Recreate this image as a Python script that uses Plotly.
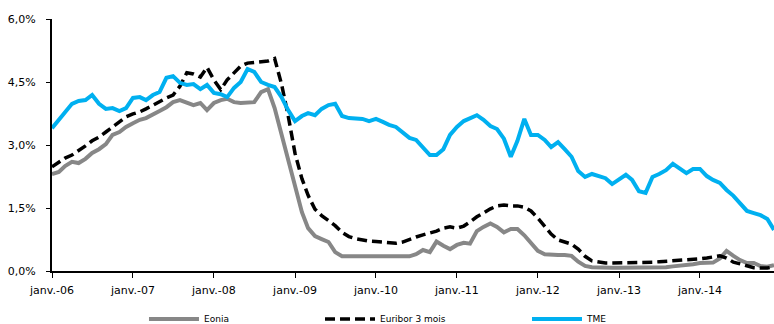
import pandas as pd
import plotly.graph_objects as go

# Monthly rates (%), January 2006 to December 2014
months = pd.date_range("2006-01-01", periods=108, freq="MS")

eonia = [
    2.31, 2.36, 2.50, 2.60, 2.57, 2.67, 2.81, 2.90, 3.02, 3.24, 3.31, 3.43,
    3.52, 3.60, 3.64, 3.74, 3.81, 3.90, 4.02, 4.07, 4.02, 3.95, 4.00, 3.83,
    4.00, 4.07, 4.10, 4.02, 4.00, 4.00, 4.02, 4.26, 4.33, 3.88, 3.24, 2.64,
    2.00, 1.40, 1.02, 0.83, 0.76, 0.69, 0.45, 0.35, 0.35, 0.35, 0.35, 0.35,
    0.35, 0.35, 0.35, 0.35, 0.35, 0.35, 0.40, 0.50, 0.45, 0.70, 0.60, 0.52,
    0.62, 0.67, 0.65, 0.95, 1.05, 1.13, 1.05, 0.92, 1.00, 1.00, 0.85, 0.68,
    0.48, 0.40, 0.38, 0.38, 0.38, 0.36, 0.22, 0.12, 0.09, 0.08, 0.08, 0.08,
    0.08, 0.08, 0.08, 0.08, 0.08, 0.08, 0.09, 0.09, 0.11, 0.12, 0.13, 0.16,
    0.19, 0.19, 0.20, 0.30, 0.48, 0.36, 0.26, 0.19, 0.19, 0.12, 0.10, 0.14,
]

euribor_3m = [
    2.48, 2.60, 2.69, 2.76, 2.86, 2.98, 3.10, 3.19, 3.31, 3.43, 3.57, 3.67,
    3.74, 3.79, 3.86, 3.95, 4.02, 4.12, 4.19, 4.40, 4.72, 4.69, 4.62, 4.85,
    4.55, 4.32, 4.55, 4.72, 4.88, 4.95, 4.96, 4.97, 5.00, 5.06, 4.45, 3.70,
    2.80, 2.20, 1.80, 1.47, 1.32, 1.20, 1.08, 0.92, 0.82, 0.77, 0.73, 0.71,
    0.70, 0.68, 0.67, 0.66, 0.69, 0.76, 0.81, 0.86, 0.90, 0.95, 1.02, 1.05,
    1.02, 1.07, 1.17, 1.29, 1.38, 1.48, 1.55, 1.57, 1.55, 1.55, 1.52, 1.43,
    1.26, 1.07, 0.88, 0.74, 0.69, 0.64, 0.52, 0.35, 0.24, 0.21, 0.19, 0.19,
    0.19, 0.20, 0.21, 0.21, 0.21, 0.21, 0.22, 0.23, 0.24, 0.24, 0.26, 0.27,
    0.29, 0.31, 0.34, 0.36, 0.31, 0.21, 0.17, 0.12, 0.08, 0.07, 0.07, 0.10,
]

tme = [
    3.40, 3.60, 3.76, 3.98, 4.05, 4.07, 4.19, 3.98, 3.86, 3.88, 3.81, 3.88,
    4.12, 4.14, 4.07, 4.19, 4.26, 4.60, 4.64, 4.48, 4.43, 4.45, 4.33, 4.43,
    4.24, 4.21, 4.14, 4.36, 4.50, 4.81, 4.74, 4.50, 4.43, 4.38, 4.14, 3.83,
    3.57, 3.69, 3.76, 3.71, 3.86, 3.95, 3.98, 3.69, 3.64, 3.64, 3.62, 3.57,
    3.62, 3.55, 3.48, 3.43, 3.31, 3.17, 3.12, 2.93, 2.76, 2.76, 2.90, 3.24,
    3.43, 3.57, 3.64, 3.71, 3.60, 3.45, 3.38, 3.15, 2.72, 3.10, 3.62, 3.24,
    3.24, 3.12, 2.95, 3.07, 2.90, 2.72, 2.38, 2.24, 2.31, 2.26, 2.21, 2.07,
    2.19, 2.29, 2.17, 1.90, 1.86, 2.24, 2.31, 2.40, 2.55, 2.43, 2.33, 2.43,
    2.43, 2.26, 2.17, 2.10, 1.93, 1.79, 1.62, 1.43, 1.38, 1.33, 1.24, 0.98,
]

year_ticks = pd.date_range("2006-01-01", "2014-01-01", freq="YS")
year_labels = ["janv.-06", "janv.-07", "janv.-08", "janv.-09", "janv.-10",
               "janv.-11", "janv.-12", "janv.-13", "janv.-14"]
y_ticks = [0, 1.5, 3.0, 4.5, 6.0]
y_labels = ["0,0%", "1,5%", "3,0%", "4,5%", "6,0%"]

FONT = "DejaVu Sans"

fig = go.Figure()
fig.add_trace(go.Scatter(
    x=months, y=eonia, name="Eonia", mode="lines",
    line=dict(color="#878787", width=4), legend="legend",
))
fig.add_trace(go.Scatter(
    x=months, y=euribor_3m, name="Euribor 3 mois", mode="lines",
    line=dict(color="#000000", width=3.5, dash="10px,5px"), legend="legend2",
))
fig.add_trace(go.Scatter(
    x=months, y=tme, name="TME", mode="lines",
    line=dict(color="#00B0F0", width=4), legend="legend3",
))

legend_common = dict(
    orientation="h", yanchor="middle", y=-0.19, xanchor="left",
    font=dict(family=FONT, size=9, color="#000000"),
    bgcolor="rgba(0,0,0,0)", itemwidth=50, tracegroupgap=0,
)

fig.update_layout(
    width=774, height=324,
    margin=dict(l=52, r=0, t=19, b=53, autoexpand=False),
    paper_bgcolor="white", plot_bgcolor="white",
    font=dict(family=FONT, size=11, color="#000000"),
    showlegend=True,
    legend=dict(x=0.1274, **legend_common),
    legend2=dict(x=0.3712, **legend_common),
    legend3=dict(x=0.6579, **legend_common),
    xaxis=dict(
        type="date",
        range=[months[0], months[-1]],
        tickvals=list(year_ticks), ticktext=year_labels,
        showgrid=False, zeroline=False,
        showline=True, linecolor="#000000", linewidth=2,
        ticks="outside", ticklen=5, tickwidth=1, tickcolor="#000000",
        tickfont=dict(family=FONT, size=11),
        ticklabelstandoff=3,
    ),
    yaxis=dict(
        range=[0, 6.0],
        tickvals=y_ticks, ticktext=y_labels,
        showgrid=False, zeroline=False,
        showline=True, linecolor="#000000", linewidth=2,
        ticks="outside", ticklen=4, tickwidth=1, tickcolor="#000000",
        tickfont=dict(family=FONT, size=11),
        ticklabelstandoff=8,
    ),
)

fig.write_html("out.html")
